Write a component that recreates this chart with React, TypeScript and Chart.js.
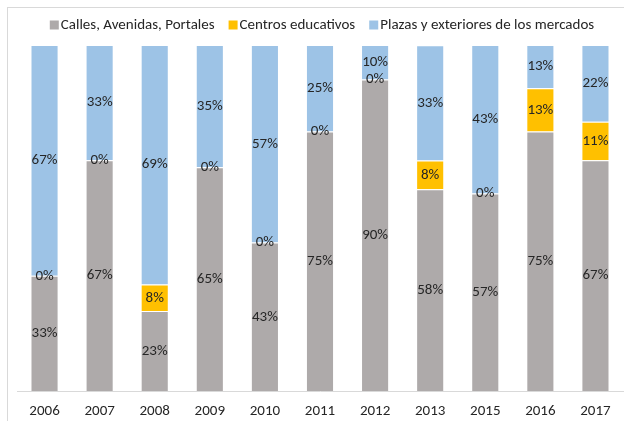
import React, { useEffect, useRef } from 'react';
import { Chart, registerables } from 'chart.js';
Chart.register(...registerables);

const FONT = "Carlito, Calibri, Lato, 'DejaVu Sans', sans-serif";

const categories = ['2006', '2007', '2008', '2009', '2010', '2011', '2012', '2013', '2015', '2016', '2017'];
const seriesNames = ['Calles, Avenidas, Portales', 'Centros educativos', 'Plazas y exteriores de los mercados'];
const calles = [33.3, 66.7, 23.1, 64.7, 42.9, 75, 90, 58.3, 57.1, 75, 66.7];
const centros = [0, 0, 7.7, 0, 0, 0, 0, 8.3, 0, 12.5, 11.1];
const plazas = [66.7, 33.3, 69.2, 35.3, 57.1, 25, 10, 33.3, 42.9, 12.5, 22.2];
const colors = ['#aeaaaa', '#ffc000', '#9dc3e6'];

const framePlugin = {
  id: 'frame',
  beforeDraw(chart: any) {
    const ctx = chart.ctx;
    ctx.save();
    ctx.strokeStyle = '#d9d9d9';
    ctx.lineWidth = 1;
    ctx.strokeRect(7.5, 7.5, 700, 500);
    ctx.restore();
  },
};

const legendPlugin = {
  id: 'customLegend',
  afterDraw(chart: any) {
    const ctx = chart.ctx;
    ctx.save();
    ctx.font = `15px ${FONT}`;
    const box = 9;
    const gap = 2;
    const sep = 14;
    const widths = seriesNames.map((n) => ctx.measureText(n).width);
    const total = widths.reduce((a, w) => a + box + gap + w, 0) + sep * (seriesNames.length - 1);
    let x = 322 - total / 2;
    const cy = 25;
    seriesNames.forEach((n, i) => {
      ctx.fillStyle = colors[i];
      ctx.fillRect(x, cy - 4.5, box, box);
      ctx.fillStyle = '#262626';
      ctx.textBaseline = 'middle';
      ctx.textAlign = 'left';
      ctx.fillText(n, x + box + gap, cy);
      x += box + gap + widths[i] + sep;
    });
    ctx.restore();
  },
};

const labelsPlugin = {
  id: 'segLabels',
  afterDatasetsDraw(chart: any) {
    const ctx = chart.ctx;
    ctx.save();
    ctx.font = `15px ${FONT}`;
    ctx.fillStyle = '#262626';
    ctx.textAlign = 'center';
    ctx.textBaseline = 'middle';
    chart.data.datasets.forEach((ds: any, di: number) => {
      const meta = chart.getDatasetMeta(di);
      meta.data.forEach((el: any, i: number) => {
        const v = ds.data[i];
        const y = (el.y + el.base) / 2;
        ctx.fillText(Math.round(v) + '%', el.x, y);
      });
    });
    ctx.restore();
  },
};

export default function App() {
  const ref = useRef<HTMLCanvasElement>(null);
  useEffect(() => {
    const chart = new Chart(ref.current!, {
      type: 'bar',
      data: {
        labels: categories,
        datasets: [calles, centros, plazas].map((d, i) => ({
          label: seriesNames[i],
          data: d,
          backgroundColor: colors[i],
          borderColor: 'rgba(255,255,255,0.7)',
          borderWidth: 1,
          categoryPercentage: 1,
          barPercentage: 0.51,
        })),
      },
      options: {
        responsive: false,
        animation: false,
        layout: { padding: { top: 45, left: 17, right: 1, bottom: 0 } },
        plugins: { legend: { display: false }, tooltip: { enabled: false } },
        scales: {
          x: {
            stacked: true,
            grid: { display: false, drawTicks: false },
            border: { color: '#d9d9d9', display: true },
            ticks: { padding: 11, color: '#262626', font: { family: FONT, size: 15 }, maxRotation: 0, autoSkip: false },
            afterFit(scale: any) {
              scale.height = 30;
            },
          },
          y: { stacked: true, display: false, min: 0, max: 100 },
        },
      },
      plugins: [framePlugin, legendPlugin, labelsPlugin],
    });
    return () => chart.destroy();
  }, []);
  return (
    <div style={{ position: 'fixed', left: 0, top: 0, width: 624, height: 421, background: '#fff' }}>
      <canvas ref={ref} width={624} height={421} />
    </div>
  );
}
